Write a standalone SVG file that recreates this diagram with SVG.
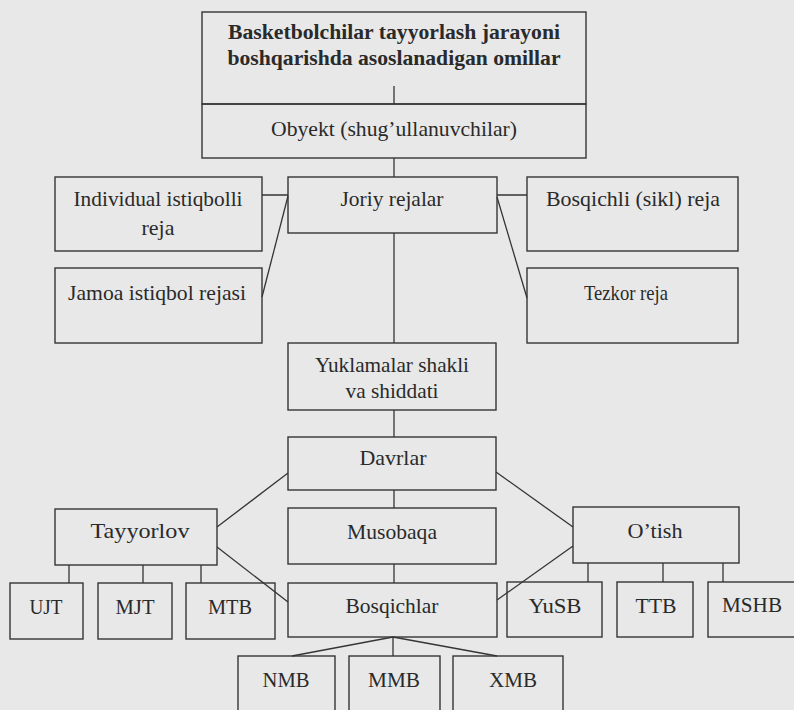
<svg xmlns="http://www.w3.org/2000/svg" width="794" height="710" viewBox="0 0 794 710">
  <style>
    .box { fill: none; stroke: #353535; stroke-width: 1.4; }
    .wire { fill: none; stroke: #353535; stroke-width: 1.3; }
    text { font-family: "Liberation Serif", "Times New Roman", serif; font-size: 22px; fill: #2a2a2a; text-anchor: middle; }
    .title { font-weight: bold; font-size: 21px; }
  </style>
  <!-- paper -->
  <rect x="0" y="0" width="794" height="710" fill="#e8e8e8"/>

  <!-- connectors -->
  <g id="connectors">
    <path class="wire" d="M394,86 V104"/>
    <path class="wire" d="M394,158 V177"/>
    <path class="wire" d="M262,195 H288 M497,195 H527"/>
    <path class="wire" d="M288,196 L262,297"/>
    <path class="wire" d="M497,197 L527,298"/>
    <path class="wire" d="M394,233 V343"/>
    <path class="wire" d="M394,410 V437"/>
    <path class="wire" d="M288,473 L217,527"/>
    <path class="wire" d="M496,472 L573,527"/>
    <path class="wire" d="M394,490 V508"/>
    <path class="wire" d="M217,547 L288,602"/>
    <path class="wire" d="M573,546 L497,600"/>
    <path class="wire" d="M394,564 V583"/>
    <path class="wire" d="M69,565 V583 M143,565 V583 M201,565 V583"/>
    <path class="wire" d="M588,563 V582 M663,563 V582 M723,563 V582"/>
    <path class="wire" d="M393,637 L292,656 M393,637 V656 M393,637 L497,656"/>
  </g>

  <g id="title">
    <rect class="box" x="202" y="12" width="384" height="92"/>
    <text class="title" x="394" y="39" textLength="332" lengthAdjust="spacingAndGlyphs">Basketbolchilar tayyorlash jarayoni</text>
    <text class="title" x="394" y="65" textLength="333" lengthAdjust="spacingAndGlyphs">boshqarishda asoslanadigan omillar</text>
  </g>
  <g id="obyekt">
    <rect class="box" x="202" y="104" width="384" height="54"/>
    <text x="394" y="136" textLength="246" lengthAdjust="spacingAndGlyphs">Obyekt (shug’ullanuvchilar)</text>
  </g>

  <g id="individual">
    <rect class="box" x="55" y="177" width="207" height="74"/>
    <text x="158" y="206" textLength="169" lengthAdjust="spacingAndGlyphs">Individual istiqbolli</text>
    <text x="158" y="235" textLength="33" lengthAdjust="spacingAndGlyphs">reja</text>
  </g>
  <g id="joriy">
    <rect class="box" x="288" y="177" width="209" height="56"/>
    <text x="392" y="206" textLength="103" lengthAdjust="spacingAndGlyphs">Joriy rejalar</text>
  </g>
  <g id="bosqichli">
    <rect class="box" x="527" y="177" width="211" height="74"/>
    <text x="633" y="206" textLength="174" lengthAdjust="spacingAndGlyphs">Bosqichli (sikl) reja</text>
  </g>
  <g id="jamoa">
    <rect class="box" x="55" y="268" width="207" height="75"/>
    <text x="157" y="300" textLength="178" lengthAdjust="spacingAndGlyphs">Jamoa istiqbol rejasi</text>
  </g>
  <g id="tezkor">
    <rect class="box" x="527" y="268" width="211" height="75"/>
    <text x="626" y="300" textLength="84" lengthAdjust="spacingAndGlyphs">Tezkor reja</text>
  </g>

  <g id="yuklamalar">
    <rect class="box" x="288" y="343" width="208" height="67"/>
    <text x="392" y="372" textLength="154" lengthAdjust="spacingAndGlyphs">Yuklamalar shakli</text>
    <text x="392" y="398" textLength="93" lengthAdjust="spacingAndGlyphs">va shiddati</text>
  </g>
  <g id="davrlar">
    <rect class="box" x="288" y="437" width="208" height="53"/>
    <text x="393" y="465" textLength="67" lengthAdjust="spacingAndGlyphs">Davrlar</text>
  </g>

  <g id="tayyorlov">
    <rect class="box" x="55" y="509" width="162" height="56"/>
    <text x="140" y="538" textLength="99" lengthAdjust="spacingAndGlyphs">Tayyorlov</text>
  </g>
  <g id="musobaqa">
    <rect class="box" x="288" y="508" width="208" height="56"/>
    <text x="392" y="539" textLength="90" lengthAdjust="spacingAndGlyphs">Musobaqa</text>
  </g>
  <g id="otish">
    <rect class="box" x="573" y="507" width="166" height="56"/>
    <text x="655" y="538" textLength="55" lengthAdjust="spacingAndGlyphs">O’tish</text>
  </g>

  <g id="ujt">
    <rect class="box" x="10" y="583" width="73" height="56"/>
    <text x="46" y="614" textLength="33" lengthAdjust="spacingAndGlyphs">UJT</text>
  </g>
  <g id="mjt">
    <rect class="box" x="98" y="583" width="74" height="56"/>
    <text x="135" y="614" textLength="39" lengthAdjust="spacingAndGlyphs">MJT</text>
  </g>
  <g id="mtb">
    <rect class="box" x="186" y="583" width="89" height="56"/>
    <text x="230" y="614" textLength="44" lengthAdjust="spacingAndGlyphs">MTB</text>
  </g>
  <g id="bosqichlar">
    <rect class="box" x="288" y="583" width="209" height="54"/>
    <text x="392" y="613" textLength="93" lengthAdjust="spacingAndGlyphs">Bosqichlar</text>
  </g>
  <g id="yusb">
    <rect class="box" x="507" y="582" width="95" height="55"/>
    <text x="555" y="613" textLength="53" lengthAdjust="spacingAndGlyphs">YuSB</text>
  </g>
  <g id="ttb">
    <rect class="box" x="617" y="582" width="76" height="55"/>
    <text x="656" y="613" textLength="41" lengthAdjust="spacingAndGlyphs">TTB</text>
  </g>
  <g id="mshb">
    <rect class="box" x="708" y="582" width="100" height="55"/>
    <text x="752" y="612" textLength="60" lengthAdjust="spacingAndGlyphs">MSHB</text>
  </g>

  <g id="nmb">
    <rect class="box" x="238" y="656" width="97" height="70"/>
    <text x="286" y="687" textLength="47" lengthAdjust="spacingAndGlyphs">NMB</text>
  </g>
  <g id="mmb">
    <rect class="box" x="349" y="656" width="91" height="70"/>
    <text x="394" y="687" textLength="52" lengthAdjust="spacingAndGlyphs">MMB</text>
  </g>
  <g id="xmb">
    <rect class="box" x="453" y="656" width="110" height="70"/>
    <text x="513" y="687" textLength="48" lengthAdjust="spacingAndGlyphs">XMB</text>
  </g>
</svg>
